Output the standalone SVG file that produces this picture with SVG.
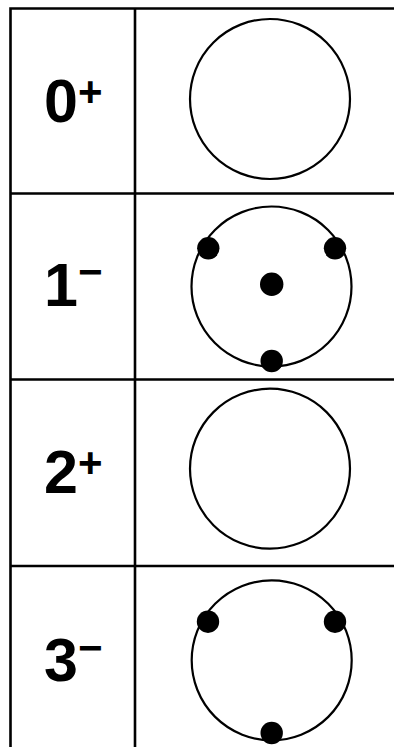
<svg xmlns="http://www.w3.org/2000/svg" width="394" height="747" viewBox="0 0 394 747">
<style>
.grid{stroke:#000;stroke-width:2.6;fill:none}
.ring{stroke:#000;stroke-width:2.2;fill:none}
.dot{fill:#000}
.lbl{font-family:"Liberation Sans",Arial,sans-serif;font-weight:bold;font-size:61px;fill:#000}
.sup{font-family:"Liberation Sans",Arial,sans-serif;font-weight:bold;font-size:42px;fill:#000}
</style>
<rect width="394" height="747" fill="#fff"/>
<g id="table" class="grid">
<path d="M10.5 748V8.5H396"/>
<path d="M135 8.5V748"/>
<path d="M10.5 193.5H396M10.5 379.5H396M10.5 566H396"/>
</g>
<g id="row0">
<text class="lbl" x="44" y="121.5">0</text>
<text class="sup" x="78" y="106">+</text>
<circle class="ring" cx="270" cy="99" r="80"/>
</g>
<g id="row1">
<text class="lbl" x="44" y="305.5">1</text>
<text class="sup" x="78" y="285.5">−</text>
<circle class="ring" cx="271.5" cy="286.5" r="80"/>
<circle class="dot" cx="208.3" cy="248.3" r="11.2"/>
<circle class="dot" cx="335" cy="248.3" r="11.2"/>
<circle class="dot" cx="271.7" cy="361" r="11.2"/>
<circle class="dot" cx="271.7" cy="284.3" r="11.7"/>
</g>
<g id="row2">
<text class="lbl" x="44" y="492.5">2</text>
<text class="sup" x="78" y="477">+</text>
<circle class="ring" cx="270" cy="468.7" r="80"/>
</g>
<g id="row3">
<text class="lbl" x="44" y="681">3</text>
<text class="sup" x="78" y="661.5">−</text>
<circle class="ring" cx="271.7" cy="660.3" r="80"/>
<circle class="dot" cx="208" cy="621.7" r="11.2"/>
<circle class="dot" cx="335" cy="621.7" r="11.2"/>
<circle class="dot" cx="271.7" cy="733" r="11.2"/>
</g>
</svg>
